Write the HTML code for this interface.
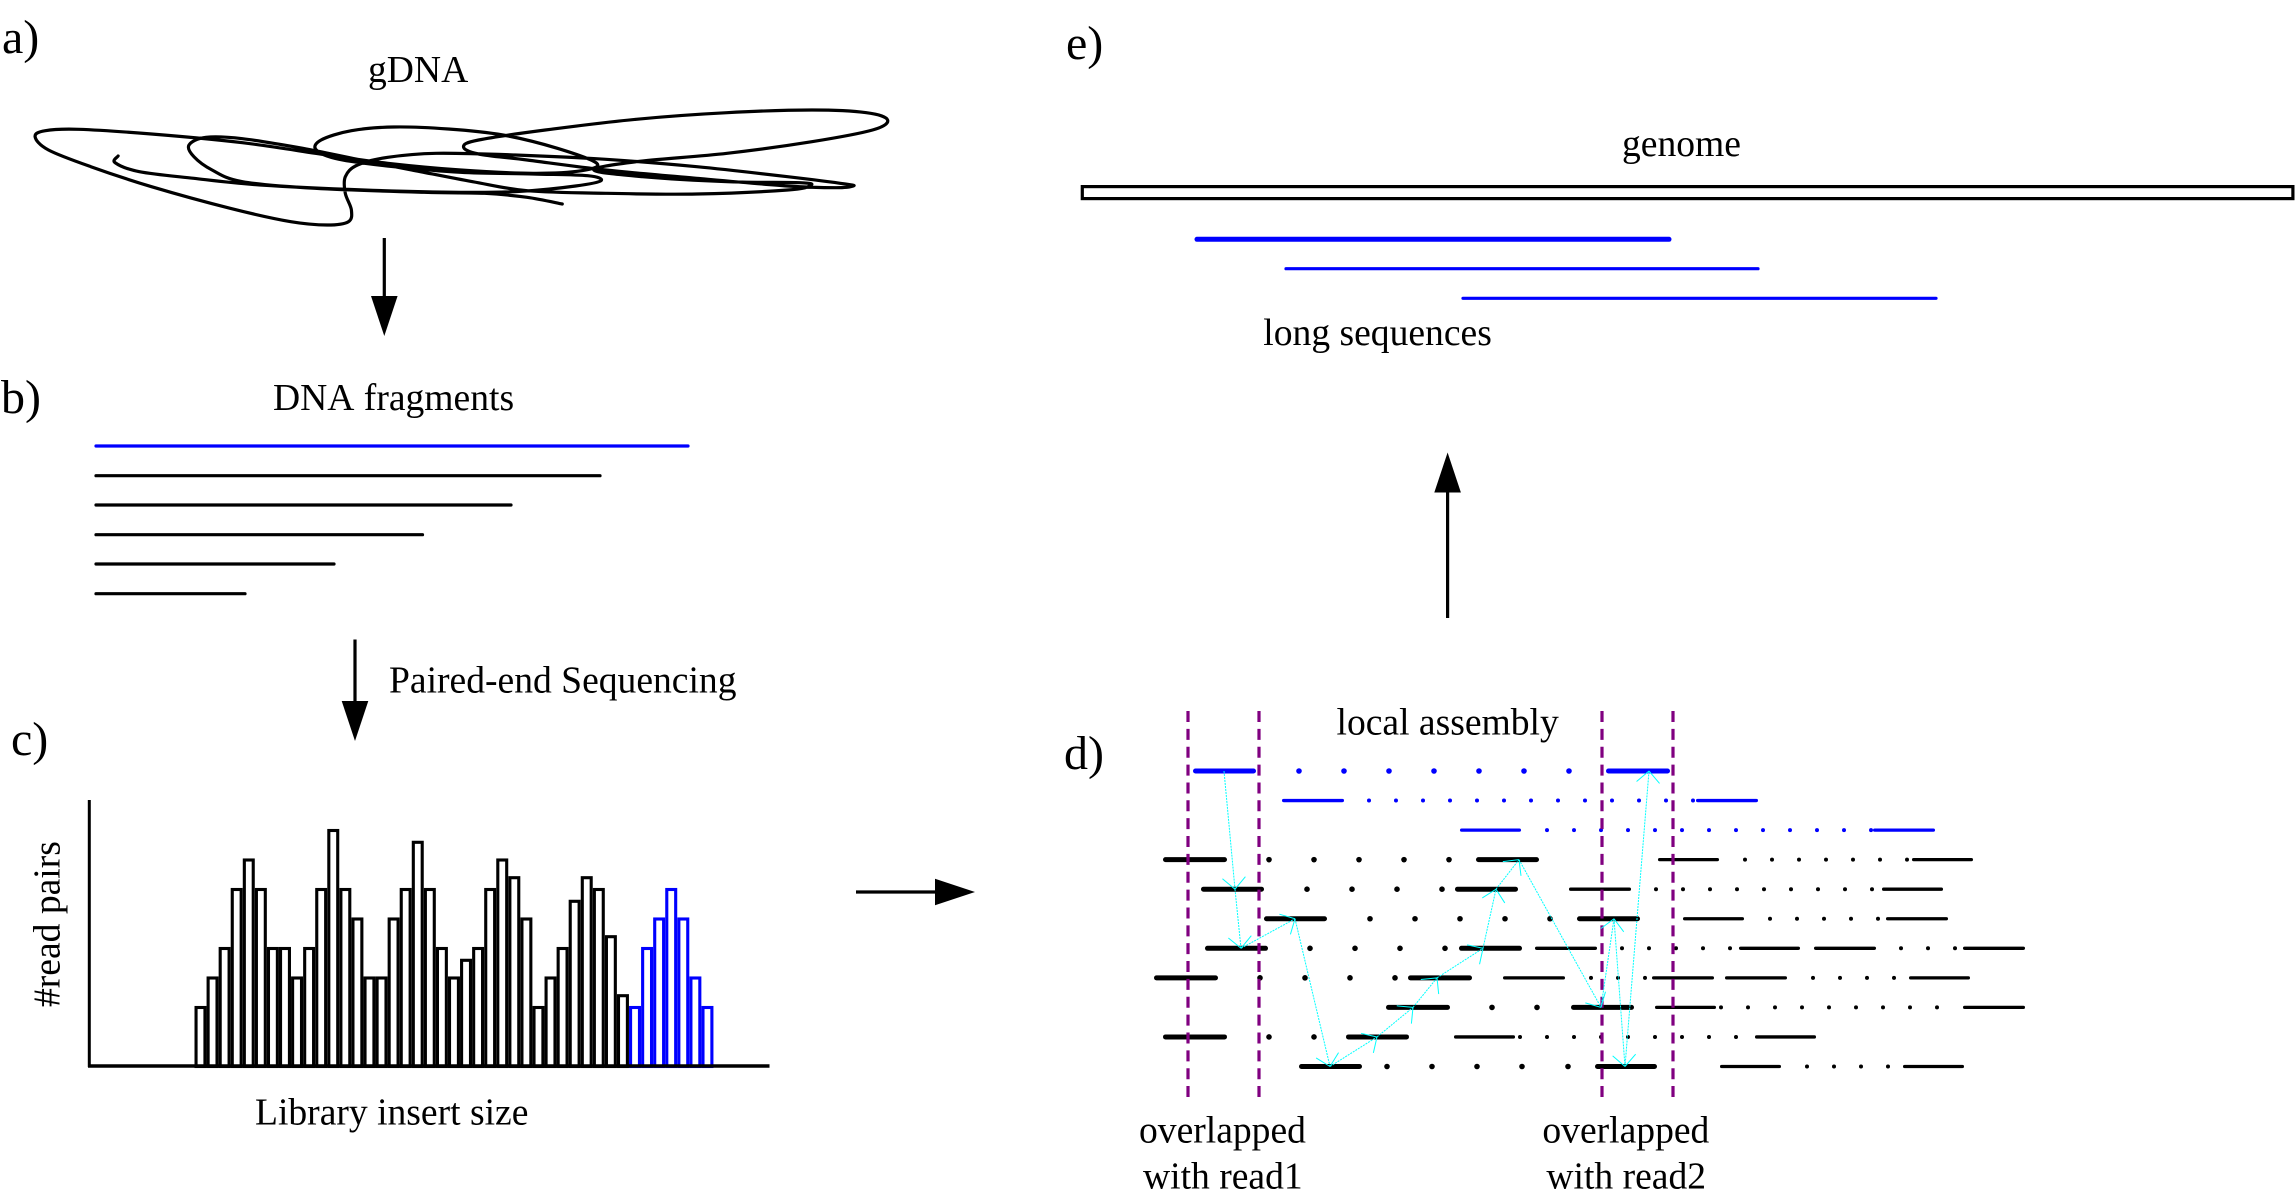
<!DOCTYPE html>
<html lang="en">
<head>
<meta charset="utf-8">
<title>Paired-end sequencing local assembly workflow</title>
<style>
html,body{margin:0;padding:0;background:#fff;width:2295px;height:1201px;overflow:hidden}
svg{display:block}
text{font-family:"Liberation Serif",serif;fill:#000;font-size:37.6px;font-kerning:none}
.panel{font-size:48px}
</style>
</head>
<body>
<svg id="fig" xmlns="http://www.w3.org/2000/svg" width="2295" height="1201" viewBox="0 0 2295 1201">
  <rect x="0" y="0" width="2295" height="1201" fill="#fff"/>

  <text class="panel" x="2" y="53">a)</text>
  <text class="panel" x="1" y="413">b)</text>
  <text class="panel" x="11" y="755">c)</text>
  <text class="panel" x="1064" y="769">d)</text>
  <text class="panel" x="1066" y="59">e)</text>

  <text x="368" y="82">gDNA</text>
  <path id="gdna" fill="none" stroke="#000" stroke-width="3.2" stroke-linecap="round" stroke-linejoin="round"/>

  <g>
    <line x1="384.3" y1="238" x2="384.3" y2="298" stroke="#000" stroke-width="3.2"/>
    <polygon points="371,296 397.6,296 384.3,336" fill="#000"/>
  </g>

  <text x="273" y="410">DNA fragments</text>
  <g fill="none" stroke="#000" stroke-width="3.2" stroke-linecap="round">
    <line x1="96" y1="446" x2="688" y2="446" stroke="#0000ff"/>
    <line x1="96" y1="475.7" x2="600" y2="475.7"/>
    <line x1="96" y1="505" x2="511" y2="505"/>
    <line x1="96" y1="534.7" x2="422.5" y2="534.7"/>
    <line x1="96" y1="564" x2="334" y2="564"/>
    <line x1="96" y1="593.7" x2="245" y2="593.7"/>
  </g>

  <g>
    <line x1="355" y1="639.5" x2="355" y2="703" stroke="#000" stroke-width="3.2"/>
    <polygon points="341.7,701 368.3,701 355,741" fill="#000"/>
  </g>
  <text x="389" y="692.7">Paired-end Sequencing</text>

  <text transform="translate(59.5,1007) rotate(-90)" x="0" y="0">#read pairs</text>
  <text x="255" y="1124.3">Library insert size</text>
  <g id="hist"></g>
  <line x1="89.3" y1="800" x2="89.3" y2="1067" stroke="#000" stroke-width="3"/>
  <line x1="88" y1="1066" x2="769.5" y2="1066" stroke="#000" stroke-width="3.4"/>

  <g>
    <line x1="856" y1="892" x2="937" y2="892" stroke="#000" stroke-width="3.2"/>
    <polygon points="935,878.7 935,905.3 975,892" fill="#000"/>
  </g>

  <text x="1336.5" y="734.3">local assembly</text>
  <g id="reads"></g>
  <g id="overlap"></g>
  <g id="links"></g>
  <text x="1139" y="1142.7">overlapped</text>
  <text x="1143" y="1188.3">with read1</text>
  <text x="1542.4" y="1142.7">overlapped</text>
  <text x="1546.4" y="1188.3">with read2</text>

  <g>
    <line x1="1447.6" y1="618" x2="1447.6" y2="490" stroke="#000" stroke-width="3.2"/>
    <polygon points="1434.3,492.5 1460.9,492.5 1447.6,452.5" fill="#000"/>
  </g>

  <text x="1622" y="156">genome</text>
  <rect x="1082.3" y="186.6" width="1210.6" height="12" fill="#fff" stroke="#000" stroke-width="3.2"/>
  <g stroke="#0000ff" stroke-linecap="round">
    <line x1="1197" y1="239.3" x2="1669" y2="239.3" stroke-width="5"/>
    <line x1="1286" y1="268.7" x2="1758" y2="268.7" stroke-width="3.2"/>
    <line x1="1463" y1="298.3" x2="1936" y2="298.3" stroke-width="3.2"/>
  </g>
  <text x="1263.3" y="345">long sequences</text>
</svg>

<script>
// ---- Histogram data (read pairs per insert-size bin) ----
const binCounts = [2,3,4,6,7,6,4,4,3,4,6,8,6,5,3,3,5,6,7.6,6,4,3,3.6,4,6,7,6.4,5,2,3,4,5.6,6.4,6,4.4,2.4];
const selectedBinCounts = [2,4,5,6,5,3,2];

// ---- Read rows (position along genome, rows numbered from the top) ----
const thickReads = [
  [[111,174],[524,588]],
  [],
  [],
  [[81,145],[394,457]],
  [[119,182],[373,436]],
  [[182,245],[495,558]],
  [[123,186],[377,440]],
  [[72,136],[326,390]],
  [[304,368],[489,552]],
  [[81,145],[264,327]],
  [[217,280],[513,575]]
];
const thinReads = [
  [],
  [[200,262],[614,676]],
  [[378,439],[791,853]],
  [[576,637],[830,891]],
  [[487,549],[800,861]],
  [[601,662],[804,866]],
  [[453,515],[657,718],[732,794],[881,943]],
  [[421,483],[570,632],[643,705],[827,888]],
  [[573,634],[881,943]],
  [[372,433],[673,734]],
  [[638,699],[821,882]]
];
const largeGapDots = [
  [217,262,307,352,397,442,487],
  [],
  [],
  [187,232,277,322,367],
  [225,270,315,360],
  [288,333,378,423,468],
  [228,273,318,363],
  [178,223,268,313],
  [410,455],
  [187,232],
  [305,350,395,440,486]
];
const smallGapDots = [
  [],
  [287,314,341,368,395,422,449,476,503,530,557,584,611],
  [465,492,519,546,573,600,627,654,681,708,735,762,789],
  [663,690,717,744,771,798,825],
  [574,601,628,655,682,709,736,763,790],
  [688,715,742,769,796],
  [540,567,594,621,648,819,846,873],
  [509,536,563,731,758,785,812],
  [639,666,693,720,747,774,801,828,855],
  [438,465,492,519,546,573,600,627,654],
  [725,752,779,806]
];
const blueRowCount = 3;
const overlapWindows = [106,177,520,591];
const assemblyPathPositions = [142,153,159,213,248,295,331,355,401,414,437,519,532,543,567];
const assemblyPathRows = [0,4,6,5,10,9,8,7,6,4,3,8,5,10,0];

// ---- Axis functions ----
const xBin = i => 200.5 + 12.07 * i;
const yCount = v => 1066.5 - 29.5 * v;
const xGenome = p => 1082 + p;
const yRow = r => 771 + 29.55 * r;

const NS = 'http://www.w3.org/2000/svg';
function make(tag, parent, props) {
  const el = document.createElementNS(NS, tag);
  for (const k in props) el.setAttribute(k, props[k]);
  parent.appendChild(el);
  return el;
}

// ---- Histogram ----
const histGroup = document.getElementById('hist');
const allCounts = binCounts.concat(selectedBinCounts);
allCounts.forEach((v, i) => {
  const selected = i >= binCounts.length;
  const top = yCount(v);
  const bar = make('rect', histGroup, {
    x: xBin(i) - 4.45, y: top, width: 8.9, height: yCount(0) - top,
    fill: '#fff', stroke: selected ? '#0000ff' : '#000', 'stroke-width': 3.1
  });
  
  
});

// ---- Reads ----
const readsGroup = document.getElementById('reads');
const rowColor = r => r < blueRowCount ? '#0000ff' : '#000';
function drawRead(seg, row, width) {
  const line = make('line', readsGroup, {
    x1: xGenome(seg[0]) + width / 2, y1: yRow(row),
    x2: xGenome(seg[1]) - width / 2, y2: yRow(row),
    stroke: rowColor(row), 'stroke-width': width, 'stroke-linecap': 'round'
  });
  
  
}
function drawDot(pos, row, radius) {
  const dot = make('circle', readsGroup, {
    cx: xGenome(pos), cy: yRow(row), r: radius, fill: rowColor(row)
  });
  
  
}
thickReads.forEach((segs, row) => segs.forEach(s => drawRead(s, row, 5)));
thinReads.forEach((segs, row) => segs.forEach(s => drawRead(s, row, 3.3)));
largeGapDots.forEach((dots, row) => dots.forEach(p => drawDot(p, row, 2.8)));
smallGapDots.forEach((dots, row) => dots.forEach(p => drawDot(p, row, 2)));

// ---- Overlap windows ----
const overlapGroup = document.getElementById('overlap');
overlapWindows.forEach(p => {
  const line = make('line', overlapGroup, {
    x1: xGenome(p), y1: 711, x2: xGenome(p), y2: 1097.5,
    stroke: '#800080', 'stroke-width': 3.2, 'stroke-dasharray': '11 6.86'
  });
  
  
});

// ---- Assembly path ----
const linksGroup = document.getElementById('links');
for (let i = 1; i < assemblyPathPositions.length; i++) {
  const x0 = xGenome(assemblyPathPositions[i - 1]), y0 = yRow(assemblyPathRows[i - 1]);
  const x1 = xGenome(assemblyPathPositions[i]), y1 = yRow(assemblyPathRows[i]);
  const link = make('line', linksGroup, {
    x1: x0, y1: y0, x2: x1, y2: y1,
    stroke: '#00ffff', 'stroke-width': 1, 'stroke-dasharray': '2 1'
  });
  
  
  const back = Math.atan2(y0 - y1, x0 - x1);
  [-Math.PI / 4, Math.PI / 4].forEach(off => {
    const prong = make('line', linksGroup, {
      x1: x1, y1: y1,
      x2: x1 + 16.3 * Math.cos(back + off), y2: y1 + 16.3 * Math.sin(back + off),
      stroke: '#00ffff', 'stroke-width': 1
    });
    
    
  });
}

// ---- gDNA scribble (illustration, smooth spline through traced points) ----
const gdnaTrace = [[195,468],[190,488],[230,515],[320,535],[430,555],[600,570],[760,577],[860,574],[950,558],[992,542],[970,527],[880,522],[760,517],[650,500],[560,478],[522,450],[530,420],[580,392],[650,381],[740,387],[830,405],[920,445],[985,490],[960,512],[880,520],[760,510],[640,490],[540,465],[400,428],[250,402],[130,388],[75,392],[58,410],[80,450],[150,500],[250,560],[380,625],[480,665],[540,675],[575,665],[580,630],[570,580],[570,530],[590,495],[640,472],[720,460],[850,465],[1000,478],[1150,500],[1300,530],[1395,552],[1408,558],[1380,563],[1300,558],[1150,535],[1000,510],[870,480],[790,462],[765,440],[790,420],[900,390],[1050,358],[1200,338],[1340,330],[1430,338],[1465,360],[1440,390],[1340,425],[1200,460],[1050,485],[980,510],[1060,530],[1200,545],[1320,548],[1338,556],[1300,570],[1150,582],[1000,580],[870,572],[780,545],[680,510],[590,478],[500,445],[400,416],[340,412],[312,435],[320,470],[350,510],[400,545],[520,565],[700,577],[800,580],[870,592],[928,612]];
const pts = gdnaTrace.map(p => [p[0] / 1.6505, p[1] / 3]);
let d = 'M' + pts[0][0].toFixed(1) + ' ' + pts[0][1].toFixed(1);
for (let i = 0; i < pts.length - 1; i++) {
  const p0 = pts[Math.max(i - 1, 0)], p1 = pts[i], p2 = pts[i + 1], p3 = pts[Math.min(i + 2, pts.length - 1)];
  const c1x = p1[0] + (p2[0] - p0[0]) / 6, c1y = p1[1] + (p2[1] - p0[1]) / 6;
  const c2x = p2[0] - (p3[0] - p1[0]) / 6, c2y = p2[1] - (p3[1] - p1[1]) / 6;
  d += 'C' + c1x.toFixed(1) + ' ' + c1y.toFixed(1) + ' ' + c2x.toFixed(1) + ' ' + c2y.toFixed(1) + ' ' + p2[0].toFixed(1) + ' ' + p2[1].toFixed(1);
}
document.getElementById('gdna').setAttribute('d', d);
</script>
</body>
</html>
